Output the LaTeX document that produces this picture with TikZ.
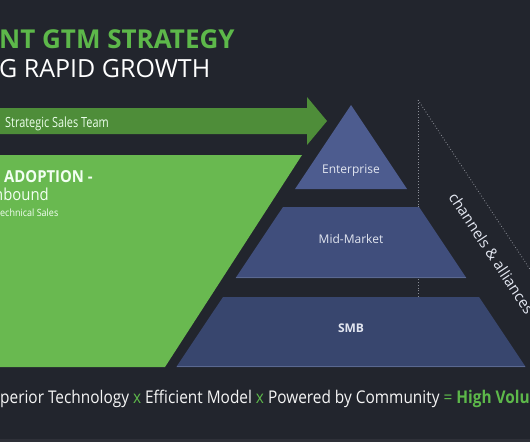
\documentclass[tikz,border=0pt]{standalone}
\usepackage{fontspec}
\setmainfont{Open Sans}
\newfontfamily\narrowA{Open Sans}[FakeStretch=0.78]
\newfontfamily\narrowB{Open Sans}[FakeStretch=0.9]
\newfontfamily\narrowC{Open Sans}[FakeStretch=0.88]
\begin{document}
\begin{tikzpicture}[x=1pt,y=-1pt]
\definecolor{bg}{HTML}{22252D}
\definecolor{bgstrip}{HTML}{2E3038}
\definecolor{titlegreen}{HTML}{5DB84A}
\definecolor{arrowgreen}{HTML}{4E8D39}
\definecolor{trapgreen}{HTML}{69B950}
\definecolor{entblue}{HTML}{4D5C8F}
\definecolor{midblue}{HTML}{404E7C}
\definecolor{smbblue}{HTML}{38466E}
\definecolor{edgeblue}{HTML}{5A6890}
\definecolor{labelcol}{HTML}{E2E6F0}
\definecolor{dotcol}{HTML}{8A8D96}
\tikzset{
  lbl/.style={text=labelcol, font=\fontsize{12}{14}\selectfont, inner sep=0pt, anchor=base},
  txt/.style={inner sep=0pt, anchor=base west},
  dotline/.style={draw=dotcol, dotted, line width=0.8pt}
}
\useasboundingbox (0,0) rectangle (530,442);
\clip (0,0) rectangle (530,442);
\fill[bg] (0,0) rectangle (530,442);
\fill[bgstrip] (0,439) rectangle (530,442);

% title
\node[txt, text=titlegreen, font=\fontsize{26}{30}\bfseries] (title1) at (-1,48) {NT GTM STRATEGY};
\node[txt, text=white, font=\fontsize{25}{30}\selectfont] (title2) at (-1,77) {G RAPID GROWTH};

% arrow
\fill[arrowgreen] (0,108) -- (307,108) -- (307,97) -- (327,121) -- (307,145) -- (307,134) -- (0,134) -- cycle;
\node[txt, text=white!92!green, font=\narrowA\fontsize{14}{16}\selectfont] (arrowtxt) at (5,127) {Strategic Sales Team};

% green trapezoid
\fill[trapgreen] (0,155) -- (302,155) -- (165,367) -- (0,367) -- cycle;
\node[txt, text=white!95!green, font=\narrowB\fontsize{16.5}{20}\bfseries] (adopt) at (4,182) {ADOPTION -};
\node[txt, text=white!95!green, font=\narrowB\fontsize{16.5}{20}\selectfont] (inbound) at (-6,200) {nbound};
\node[txt, text=white!95!green, font=\narrowB\fontsize{10}{12}\selectfont] (tech) at (0,216) {echnical Sales};

% dotted guide lines
\coordinate (dtop) at (418,100);
\coordinate (dbot) at (418,367);
\coordinate (dend) at (545,292);
\draw[dotline] (dtop) -- (dbot);
\draw[dotline] (dtop) -- (dend);

% pyramid
\fill[entblue] (351,105) -- (407,189) -- (295,189) -- cycle;
\fill[midblue] (283,207) -- (419,207) -- (466.4,278) -- (235.6,278) -- cycle;
\fill[smbblue] (223,297) -- (479,297) -- (525.7,367) -- (176.3,367) -- cycle;
\draw[edgeblue, line width=1pt] (236.3,277.5) -- (465.7,277.5);
\draw[edgeblue, line width=1pt] (177,366.5) -- (525,366.5);
\node[lbl] (ent) at (351,173) {Enterprise};
\node[lbl] (mid) at (351,243) {Mid-Market};
\node[lbl, font=\fontsize{12}{14}\bfseries] (smb) at (351,332) {SMB};

% channels text
\node[txt, text=labelcol, font=\fontsize{15}{18}\selectfont, rotate=-56.6] (chan) at (448,197) {channels \& alliances};

% bottom line
\node[txt, text=white!92!gray, font=\narrowC\fontsize{17.5}{20}\selectfont] (bottom) at (0,403)
 {perior Technology {\color{titlegreen}x} Efficient Model {\color{titlegreen}x} Powered by Community {\color{titlegreen}=} {\color{titlegreen}\bfseries High Volum}};
\end{tikzpicture}
\end{document}
